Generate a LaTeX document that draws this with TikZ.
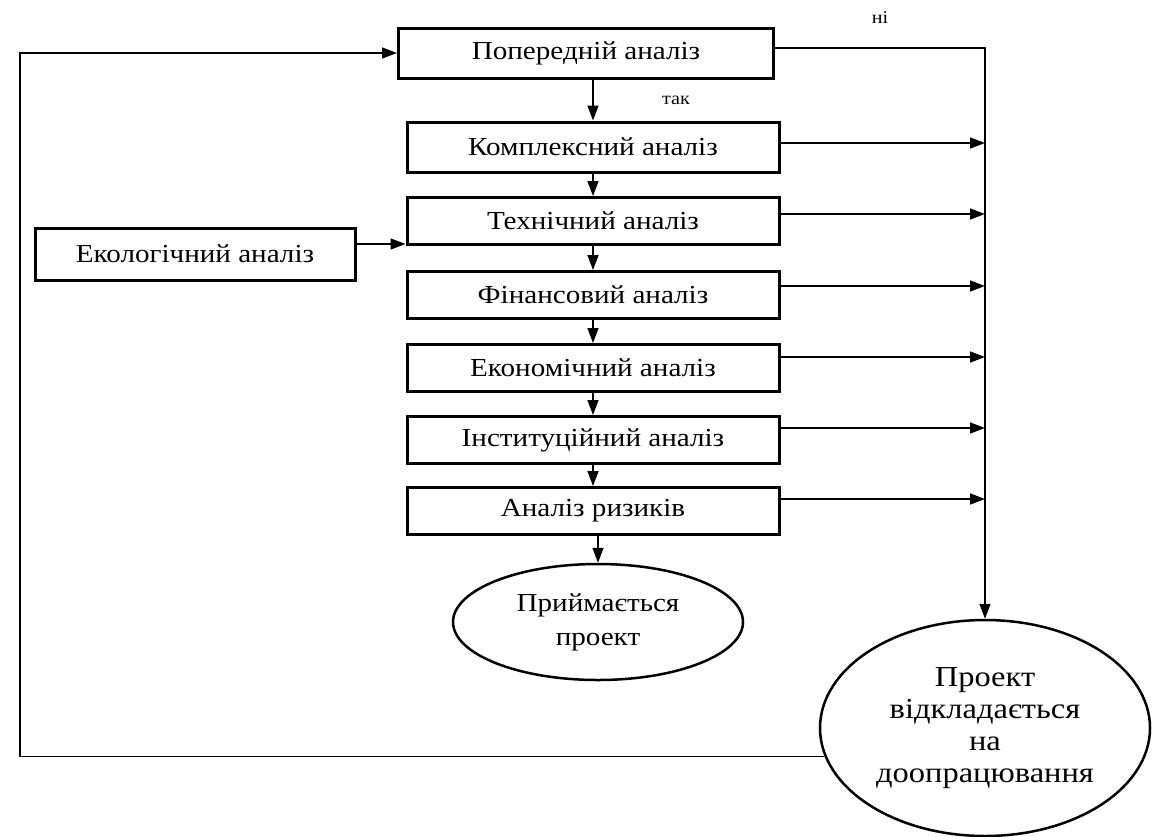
\documentclass[tikz,border=0pt]{standalone}
\usepackage{fontspec}
\setmainfont{Liberation Serif}[FakeStretch=1.12]
\usetikzlibrary{arrows.meta,shapes.geometric}
\begin{document}
\begin{tikzpicture}[x=1pt,y=-1pt,
 box/.style={draw, line width=3pt, minimum width=372pt, minimum height=47pt, inner sep=0pt, font=\fontsize{26}{30}\selectfont},
 ell/.style={draw, ellipse, line width=2.5pt, inner sep=0pt, align=center, font=\fontsize{26}{34}\selectfont},
 arr/.style={line width=1.5pt, -{Triangle[length=15pt,width=11pt]}},
 lbl/.style={font=\fontsize{18}{20}\selectfont}]
\path[use as bounding box] (0,0) rectangle (1156,836);
\fill[white] (0,0) rectangle (1156,836);
\node[box, minimum width=375pt, minimum height=50pt] (p) at (586,53) {Попередній аналіз};
\node[box, minimum height=50pt] (k) at (593,147) {Комплексний аналіз};
\node[box] (t) at (593,221) {Технічний аналіз};
\node[box] (f) at (593,295) {Фінансовий аналіз};
\node[box] (e) at (593,368) {Економічний аналіз};
\node[box] (i) at (593,440) {Інституційний аналіз};
\node[box] (r) at (593,511) {Аналіз ризиків};
\node[box, minimum width=320pt, minimum height=52pt] (eco) at (195,254) {Екологічний аналіз};
\node[ell, minimum width=290pt, minimum height=116pt] (acc) at (598,622) {Приймається\\проект};
\node[ell, minimum width=330pt, minimum height=216pt, font=\fontsize{29}{32}\selectfont] (rej) at (985,728) {Проект\\відкладається\\на\\доопрацювання};
\node[lbl] (yes) at (676,100) {так};
\node[lbl] (no) at (880,18) {ні};
% vertical flow
\foreach \a/\b in {p/k,k/t,t/f,f/e,e/i,i/r,r/acc}
  \draw[arr] (\b.north |- \a.south) -- (\b.north);
% right side
\coordinate (tr) at (985,48);
\draw[arr] (p.east |- tr) -- (tr) -- (rej.north);
\coordinate (c1) at (985,143);
\coordinate (c2) at (985,214);
\coordinate (c3) at (985,286);
\coordinate (c4) at (985,357);
\coordinate (c5) at (985,428);
\coordinate (c6) at (985,499);
\draw[arr] (k.east |- c1) -- (c1);
\draw[arr] (t.east |- c2) -- (c2);
\draw[arr] (f.east |- c3) -- (c3);
\draw[arr] (e.east |- c4) -- (c4);
\draw[arr] (i.east |- c5) -- (c5);
\draw[arr] (r.east |- c6) -- (c6);
% ecological
\coordinate (ea) at (400,244);
\draw[arr] (eco.east |- ea) -- (t.west |- ea);
% loop back
\coordinate (lt) at (20,53);
\draw[arr] (rej.190) -- (rej.190 -| lt) -- (lt) -- (p.west);
\end{tikzpicture}
\end{document}
